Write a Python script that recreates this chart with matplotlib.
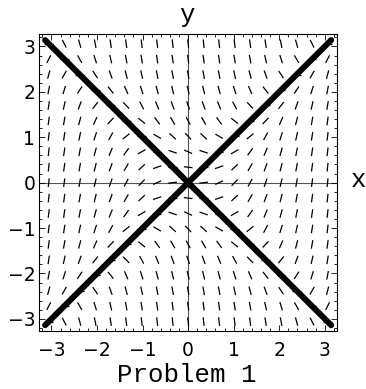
import numpy as np
import matplotlib
matplotlib.use('Agg')
import matplotlib.pyplot as plt
from matplotlib.collections import LineCollection
from matplotlib.ticker import MultipleLocator


# direction field of dy/dx = x^2 - y^2, sampled on this grid
GRID = [-3.06, -2.72, -2.38, -2.04, -1.70, -1.36, -1.02, -0.68, -0.34, 0.0,
        0.34, 0.68, 1.02, 1.36, 1.70, 2.04, 2.38, 2.72, 3.06]
SEG_LEN = 0.19

# isoclines of slope zero: y = x and y = -x
LINE_X = [-3.14, 3.14]
LINE_UP = [-3.14, 3.14]
LINE_DOWN = [3.14, -3.14]

TICKS = [-3, -2, -1, 0, 1, 2, 3]
LIM = 3.267

W, H = 366, 389


def slope(x, y):
    return x * x - y * y


def field_segments():
    segs = []
    for x in GRID:
        for y in GRID:
            s = slope(x, y)
            dx = SEG_LEN / 2 / np.hypot(1, s)
            dy = s * dx
            segs.append([(x - dx, y - dy), (x + dx, y + dy)])
    return segs


fig = plt.figure(figsize=(W / 100, H / 100), dpi=100)
ax = fig.add_axes([39.3 / W, (H - 331) / H, (337 - 39.3) / W, (331 - 34.3) / H])

ax.set_xlim(-LIM, LIM)
ax.set_ylim(-LIM, LIM)

# axes through the origin
ax.axhline(0, color='#555555', lw=0.8, zorder=1)
ax.axvline(0, color='#555555', lw=0.8, zorder=1)

ax.add_collection(LineCollection(field_segments(), colors='black',
                                 linewidths=0.9, zorder=2))

ax.plot(LINE_X, LINE_UP, color='black', lw=4.3, solid_capstyle='round', zorder=3)
ax.plot(LINE_X, LINE_DOWN, color='black', lw=4.3, solid_capstyle='round', zorder=3)

ax.set_xticks(TICKS)
ax.set_yticks(TICKS)
ax.xaxis.set_minor_locator(MultipleLocator(0.2))
ax.yaxis.set_minor_locator(MultipleLocator(0.2))
ax.tick_params(which='both', direction='in', top=True, right=True,
               width=0.6, colors='black')
ax.tick_params(which='major', length=4)
ax.tick_params(which='minor', length=2.2)
ax.tick_params(axis='x', pad=7)
ax.tick_params(axis='y', pad=3)
for lab in ax.get_xticklabels() + ax.get_yticklabels():
    lab.set_fontfamily('DejaVu Sans')
    lab.set_fontsize(13.5)

for sp in ax.spines.values():
    sp.set_linewidth(0.8)

mono = 'Liberation Mono'
fig.text(187 / W, 1 - 22 / H, 'y', family=mono, fontsize=18.5,
         ha='center', va='baseline')
fig.text(358.5 / W, 1 - 187 / H, 'x', family=mono, fontsize=18.5,
         ha='center', va='baseline')
fig.text(187 / W, 1 - 382 / H, 'Problem 1', family=mono, fontsize=18.5,
         ha='center', va='baseline')

fig.savefig('out.png', dpi=100)
